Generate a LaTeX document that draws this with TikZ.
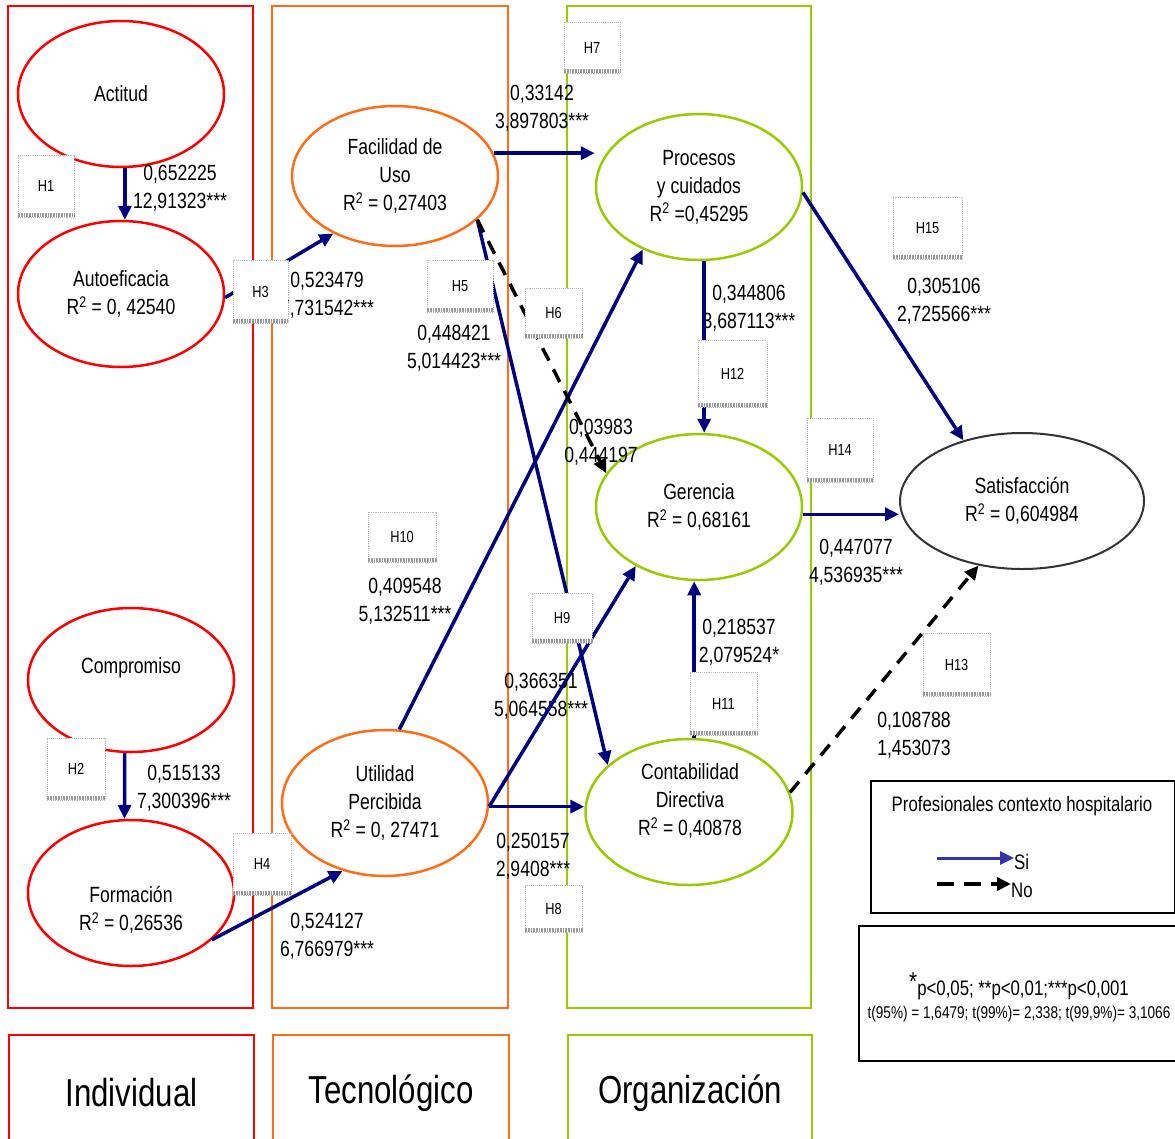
\documentclass[tikz,border=0pt]{standalone}
\usepackage{fontspec}
\setmainfont{Liberation Sans}[FakeStretch=0.8]
\usetikzlibrary{shapes.geometric,arrows.meta,calc}
\definecolor{indred}{RGB}{255,0,0}
\definecolor{tecorange}{RGB}{255,110,20}
\definecolor{orggreen}{RGB}{153,204,0}
\definecolor{pathnavy}{RGB}{0,0,128}
\definecolor{legblue}{RGB}{51,51,170}
\definecolor{outgray}{RGB}{51,51,51}

\begin{document}
\begin{tikzpicture}[x=1pt,y=-1pt,
  latent/.style={ellipse, draw, line width=2.5pt, minimum width=206pt, minimum height=146pt,
                 inner sep=0pt, align=center, font=\fontsize{22}{28}\selectfont},
  est/.style={align=center, inner sep=0pt, font=\fontsize{22}{28}\selectfont},
  hyp/.style 2 args={rectangle, fill=white, draw=gray!55, densely dotted, line width=0.9pt,
                 inner sep=0pt, minimum width=#1, minimum height=#2, font=\fontsize{16}{18}\selectfont},
  hypshadow/.style={draw=gray!80, line width=4pt, dash pattern=on 0.9pt off 0.7pt},
  sig/.style={draw=pathnavy, line width=3.5pt, -{Triangle[length=14pt,width=13pt]}},
  nonsig/.style={draw=black, line width=3.5pt, dash pattern=on 14pt off 10pt, -{Triangle[length=14pt,width=13pt]}},
  column/.style={draw, line width=2pt},
  colname/.style={draw, line width=2pt, anchor=north west, minimum height=116pt, inner sep=0pt,
                 font=\fontsize{39}{44}\selectfont},
]
\useasboundingbox (0,0) rectangle (1175,1138);
\clip (0,0) rectangle (1175,1138);
\fill[white] (0,0) rectangle (1175,1138);

% ---- dimension columns ----
\draw[column, indred] (8,6) rectangle (253,1008);
\draw[column, tecorange] (272,6) rectangle (508,1008);
\draw[column, orggreen] (567,6) rectangle (811,1008);
\node[colname, draw=indred, minimum width=245pt] (indiv) at (8,1034) {Individual};
\node[colname, draw=tecorange, minimum width=236pt] (tecno) at (272,1034) {Tecnológico};
\node[colname, draw=orggreen, minimum width=244pt] (organ) at (567,1034) {Organización};

% ---- constructs ----
\node[latent, draw=indred] (actitud) at (121,94) {Actitud};
\node[latent, draw=indred] (autoef) at (121,294) {Autoeficacia\\R\textsuperscript{2} = 0, 42540};
\node[latent, draw=indred, minimum height=144pt] (compromiso) at (131,680) {};
\node[est] (compromisotxt) at (131,668) {Compromiso};
\node[latent, draw=indred] (formacion) at (131,893) {};
\node[est] (formaciontxt) at (131,910) {Formación\\R\textsuperscript{2} = 0,26536};

\node[latent, draw=tecorange, minimum height=140pt] (facil) at (395,176) {Facilidad de\\Uso\\R\textsuperscript{2} = 0,27403};
\node[latent, draw=tecorange] (utilidad) at (385,803) {Utilidad\\Percibida\\R\textsuperscript{2} = 0, 27471};

\node[latent, draw=orggreen] (procesos) at (699,187) {Procesos\\y cuidados\\R\textsuperscript{2} =0,45295};
\node[latent, draw=orggreen] (gerencia) at (699,507) {Gerencia\\R\textsuperscript{2} = 0,68161};
\node[latent, draw=orggreen, minimum width=207pt] (contab) at (689,812) {};
\node[est] (contabtxt) at (690,801) {Contabilidad\\Directiva\\R\textsuperscript{2} = 0,40878};

\node[latent, draw=outgray, line width=2pt, minimum width=244pt, minimum height=136pt] (satisf) at (1022,501) {Satisfacción\\R\textsuperscript{2} = 0,604984};

% ---- path estimates ----
\node[est] (e1) at (180,188) {0,652225\\12,91323***};
\node[est] (e2) at (184,788) {0,515133\\7,300396***};
\node[est] (e3) at (327,295) {0,523479\\7,731542***};
\node[est] (e4) at (327,936) {0,524127\\6,766979***};
\node[est] (e5) at (454,348) {0,448421\\5,014423***};
\node[est] (e6) at (601,442) {0,03983\\0,444197};
\node[est] (e7) at (542,108.5) {0,33142\\3,897803***};
\node[est] (e8) at (533,856) {0,250157\\2,9408***};
\node[est] (e9) at (541,696) {0,366351\\5,064558***};
\node[est] (e10) at (405,601) {0,409548\\5,132511***};
\node[est] (e11) at (739,642) {0,218537\\2,079524*};
\node[est] (e12) at (749,308) {0,344806\\3,687113***};
\node[est] (e13) at (914,735) {0,108788\\1,453073};
\node[est] (e14) at (856,562) {0,447077\\4,536935***};
\node[est] (e15) at (944,301) {0,305106\\2,725566***};

% ---- structural paths ----
\draw[sig] (actitud.-87) -- (autoef.87);
\draw[sig] (compromiso.-95) -- (formacion.95);
\draw[sig] (autoef.-2) -- (facil.-137);
\draw[sig] (formacion.-30) -- (utilidad.-122);
\draw[sig] (facil.13) -- (facil.13 -| procesos.west);
\draw[sig] (utilidad.79) -- (procesos.-132);
\draw[sig] (utilidad.-2) -- (gerencia.-137);
\draw[sig] (utilidad.-2) -- (utilidad.-2 -| contab.west);
\draw[sig] (facil.-28) -- (contab.150);
\draw[nonsig] (facil.-28) -- (gerencia.160);
\draw[sig] (procesos.-86) -- (procesos.-86 |- gerencia.north);
\draw[sig] (contab.86) -- (contab.86 |- gerencia.south);
\draw[sig] (gerencia.-4) -- (gerencia.-4 -| satisf.west);
\draw[sig] (procesos.-3) -- (satisf.134);
\draw[nonsig] (contab.11) -- (satisf.-124);

% ---- hypothesis tags ----
\node[hyp={56pt}{62pt}] (h1) at (46,186) {H1};
\node[hyp={58pt}{62pt}] (h2) at (76,769) {H2};
\node[hyp={55pt}{63pt}] (h3) at (260.5,291.5) {H3};
\node[hyp={58pt}{62pt}] (h4) at (262,864) {H4};
\node[hyp={66pt}{52pt}] (h5) at (460,286) {H5};
\node[hyp={57pt}{50pt}] (h6) at (553.5,313) {H6};
\node[hyp={56pt}{51pt}] (h7) at (592,47.5) {H7};
\node[hyp={57pt}{47pt}] (h8) at (553.5,908.5) {H8};
\node[hyp={60pt}{50pt}] (h9) at (562,618) {H9};
\node[hyp={68pt}{50pt}] (h10) at (402,537) {H10};
\node[hyp={67pt}{63pt}] (h11) at (723.5,703.5) {H11};
\node[hyp={69pt}{67pt}] (h12) at (732.5,373.5) {H12};
\node[hyp={67pt}{63pt}] (h13) at (956.5,664.5) {H13};
\node[hyp={66pt}{64pt}] (h14) at (840,450) {H14};
\node[hyp={69pt}{62pt}] (h15) at (927.5,228) {H15};
\foreach \h in {h1,h2,h3,h4,h5,h6,h7,h8,h9,h10,h11,h12,h13,h14,h15}
  \draw[hypshadow] ([yshift=2pt]\h.south west) -- ([yshift=2pt]\h.south east);

% ---- legend ----
\node[draw, line width=2pt, anchor=north west, minimum width=304pt, minimum height=132pt, inner sep=0pt] (legend) at (870,780) {};
\node[inner sep=0pt, font=\fontsize{21}{24}\selectfont] (legtitle) at (1022,806) {Profesionales contexto hospitalario};
\node[anchor=west, inner sep=0pt, font=\fontsize{21}{24}\selectfont] (legsi) at (1014,862) {Si};
\node[anchor=west, inner sep=0pt, font=\fontsize{21}{24}\selectfont] (legno) at (1011,890) {No};
\coordinate (sistart) at (937,858);
\coordinate (nostart) at (937,884);
\draw[sig, draw=legblue, line width=3pt] (sistart) -- (sistart -| legsi.west);
\draw[nonsig, line width=3.5pt, dash pattern=on 17pt off 10pt] (nostart) -- (nostart -| legno.west);

% ---- significance note ----
\node[draw, line width=2pt, anchor=north west, minimum width=320pt, minimum height=135pt, inner sep=0pt] (note) at (858,925) {};
\node[inner sep=0pt, font=\fontsize{21}{24}\selectfont] (notesig) at (1019,986)
  {\raisebox{5pt}{\fontsize{26}{26}\selectfont *}p<0,05; **p<0,01;***p<0,001};
\node[inner sep=0pt, font=\fontsize{17}{20}\selectfont] (notet) at (1019,1014)
  {t(95\%) = 1,6479; t(99\%)= 2,338; t(99,9\%)= 3,1066};
\end{tikzpicture}
\end{document}
